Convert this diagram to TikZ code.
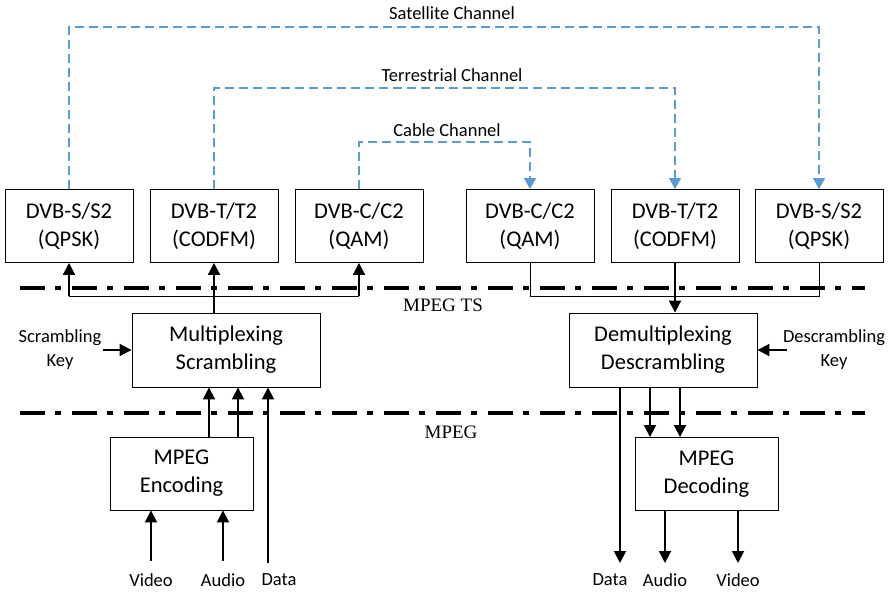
\documentclass[tikz,border=0pt]{standalone}
\usepackage{fontspec}
\setmainfont{Carlito}
\newfontfamily\serifTS{Liberation Serif}
\usetikzlibrary{arrows.meta,calc}
\definecolor{chblue}{HTML}{5B9BD5}
\begin{document}
\begin{tikzpicture}[x=1pt,y=-1pt,
  box/.style={draw,line width=0.9pt,align=center,inner sep=0pt,font=\fontsize{22.5}{28}\selectfont},
  dvb/.style={box,minimum width=128pt,minimum height=73pt},
  big/.style={box,minimum width=188pt,minimum height=74pt},
  mpg/.style={box,minimum width=143pt,minimum height=73pt},
  lbl/.style={align=center,inner sep=0pt,font=\fontsize{18.5}{24}\selectfont},
  arr/.style={line width=1.9pt,-{Triangle[width=12pt,length=12pt]}},
  thinln/.style={line width=0.9pt},
  layer/.style={line width=3.2pt,dash pattern=on 25pt off 10pt on 6pt off 11pt},
  ch/.style={chblue,line width=1.4pt,dash pattern=on 9pt off 5pt,-{Triangle[width=12pt,length=11pt]}}]
\useasboundingbox (0,0) rectangle (888,593);
% DVB boxes
\node[dvb] (b1) at (69,226) {DVB-S/S2\\(QPSK)};
\node[dvb] (b2) at (214,226) {DVB-T/T2\\(CODFM)};
\node[dvb] (b3) at (359,226) {DVB-C/C2\\(QAM)};
\node[dvb] (b4) at (530,226) {DVB-C/C2\\(QAM)};
\node[dvb] (b5) at (675,226) {DVB-T/T2\\(CODFM)};
\node[dvb] (b6) at (819,226) {DVB-S/S2\\(QPSK)};
% main blocks
\node[big] (mux) at (226,350) {Multiplexing\\Scrambling};
\node[big] (demux) at (663,350) {Demultiplexing\\Descrambling};
\node[mpg] (enc) at (181.5,473.5) {MPEG\\Encoding};
\node[mpg] (dec) at (706.5,474) {MPEG\\Decoding};
% channels
\coordinate (sat) at (450,27);
\coordinate (ter) at (450,88);
\coordinate (cab) at (450,142);
\draw[ch] (b1.north) |- (sat) -| (b6.north);
\draw[ch] (b2.north) |- (ter) -| (b5.north);
\draw[ch] (b3.north) |- (cab) -| (b4.north);
\node[lbl] (satl) at (452,13) {Satellite Channel};
\node[lbl] (terl) at (452,75) {Terrestrial Channel};
\node[lbl] (cabl) at (447,130) {Cable Channel};
% layer lines
\coordinate (ts1) at (20,288); \coordinate (ts2) at (865,288);
\coordinate (mp1) at (20,413); \coordinate (mp2) at (865,413);
\draw[layer] (ts1) -- (ts2);
\draw[layer] (mp1) -- (mp2);
\node[font=\serifTS\fontsize{19}{22}\selectfont,inner sep=0pt] (tsl) at (443,305) {MPEG TS};
\node[font=\serifTS\fontsize{19}{22}\selectfont,inner sep=0pt] (mpl) at (451,432) {MPEG};
% transmitter distribution
\coordinate (tj) at (214,296);
\draw[thinln] (b1.south |- tj) -- (b3.south |- tj);
\draw[arr] (b1.south |- tj) -- (b1.south);
\draw[arr] (b3.south |- tj) -- (b3.south);
\draw[arr] (b2.south |- mux.north) -- (b2.south);
% receiver collection
\coordinate (rj) at (675,296);
\draw[thinln] (b4.south) -- (b4.south |- rj) -- (b6.south |- rj) -- (b6.south);
\draw[arr] (b5.south) -- (b5.south |- demux.north);
% keys
\node[lbl] (skey) at (60,350) {Scrambling\\Key};
\coordinate (sk) at (103,350);
\draw[arr] (sk) -- (mux.west |- sk);
\node[lbl] (dkey) at (834,350) {Descrambling\\Key};
\coordinate (dk) at (787,350);
\draw[arr] (dk) -- (demux.east |- dk);
% encoder side
\draw[arr] ([xshift=27.5pt]enc.north) -- ([xshift=27.5pt]enc.north |- mux.south);
\draw[arr] ([xshift=56.5pt]enc.north) -- ([xshift=56.5pt]enc.north |- mux.south);
\coordinate (vin) at (151,561);
\coordinate (ain) at (223,561);
\coordinate (din) at (268,563);
\draw[arr] (vin) -- (vin |- enc.south);
\draw[arr] (ain) -- (ain |- enc.south);
\draw[arr] (din) -- (din |- mux.south);
\node[lbl] (vl) at (151,580) {Video};
\node[lbl] (al) at (223,580) {Audio};
\node[lbl] (dl) at (279,580) {Data};
% decoder side
\draw[arr] ([xshift=-13pt]demux.south) -- ([xshift=-13pt]demux.south |- dec.north);
\draw[arr] ([xshift=17pt]demux.south) -- ([xshift=17pt]demux.south |- dec.north);
\coordinate (dout) at (620,563);
\coordinate (aout) at (665,563);
\coordinate (vout) at (738,563);
\draw[arr] (dout |- demux.south) -- (dout);
\draw[arr] (aout |- dec.south) -- (aout);
\draw[arr] (vout |- dec.south) -- (vout);
\node[lbl] (dol) at (610,580) {Data};
\node[lbl] (aol) at (665,580) {Audio};
\node[lbl] (vol) at (738,580) {Video};
\end{tikzpicture}
\end{document}
